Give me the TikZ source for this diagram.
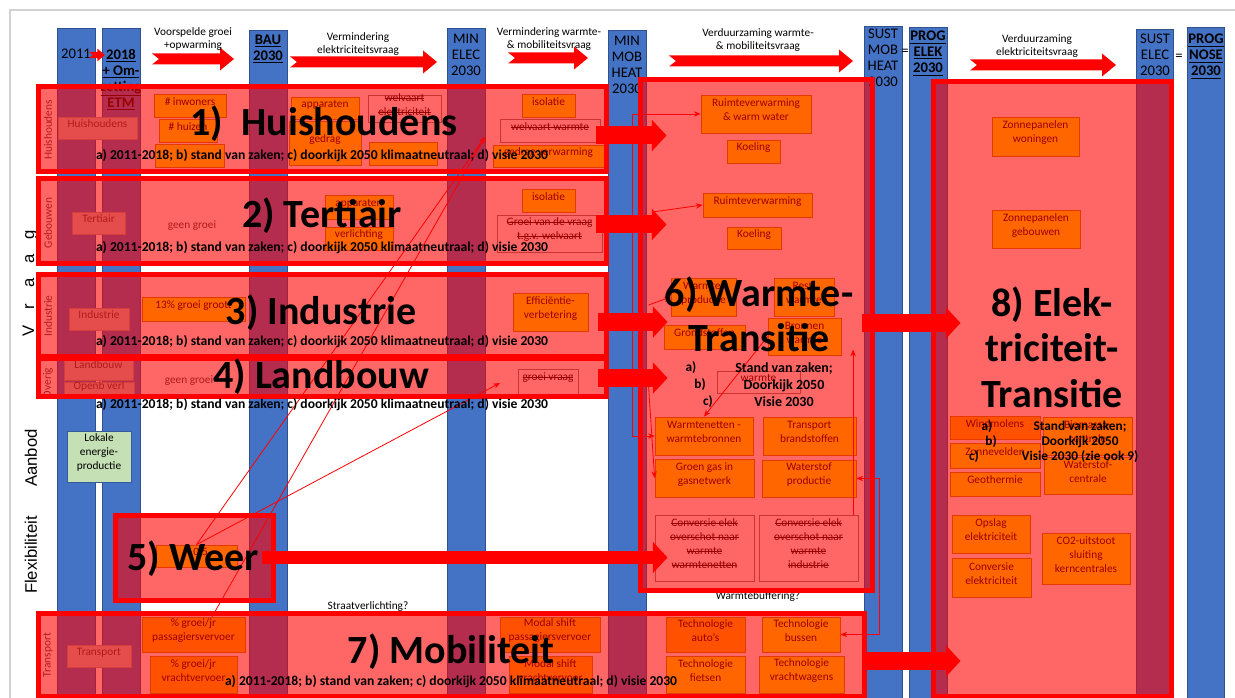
\documentclass[tikz,border=0pt]{standalone}
\usepackage{fontspec}
\setmainfont{Carlito}
\newfontfamily\rowfont{Liberation Sans}
\usetikzlibrary{fit,arrows.meta,positioning}
\definecolor{colblue}{HTML}{4472C4}
\definecolor{coledge}{HTML}{2F528F}
\definecolor{rowedge}{HTML}{2F5597}
\definecolor{boxyellow}{HTML}{FFFF00}
\definecolor{boxgold}{HTML}{FFCC00}
\definecolor{boxedge}{HTML}{BF9000}
\definecolor{labelgray}{HTML}{BFBFBF}
\definecolor{greenfill}{HTML}{C5E0B4}
\tikzstyle{rowcell} = [draw=rowedge, double=white, double distance=1.2pt, line width=0.5pt, fill=white, inner sep=0pt]
\tikzstyle{colbar} = [fill=colblue, draw=coledge, line width=0.6pt, inner sep=0pt]
\tikzstyle{collabel} = [anchor=north, align=center, inner sep=0pt, font=\fontsize{11}{12}\selectfont]
\tikzstyle{boldlabel} = [collabel, font=\fontsize{11}{12}\selectfont\bfseries]
\tikzstyle{obox} = [draw=boxedge, fill=boxyellow, line width=0.6pt, inner sep=0pt, align=center, font=\fontsize{8.5}{10.5}\selectfont]
\tikzstyle{darkbox} = [obox, fill=boxgold]
\tikzstyle{gbox} = [obox, fill=labelgray, draw=gray!80, text=black!75]
\tikzstyle{sbox} = [obox, fill=none, draw=gray]
\tikzstyle{gnbox} = [obox, fill=greenfill, draw=colblue!80!black]
\tikzstyle{redbox} = [draw=red, line width=3.75pt, fill=red, fill opacity=0.6, inner sep=0pt]
\tikzstyle{bigtitle} = [font=\fontsize{30}{34}\selectfont\bfseries, align=center, inner sep=0pt]
\tikzstyle{subline} = [font=\fontsize{10.2}{12}\selectfont\bfseries, inner sep=0pt]
\tikzstyle{abc} = [font=\fontsize{10}{12}\selectfont\bfseries, align=center, inner sep=0pt]
\tikzstyle{hdrtext} = [font=\fontsize{8.5}{10}\selectfont, align=center, inner sep=0pt]
\tikzstyle{rowlabel} = [rotate=90, font=\rowfont\fontsize{12.5}{14}\selectfont, inner sep=0pt]
\tikzstyle{sublabel} = [rotate=90, font=\fontsize{8.5}{10}\selectfont, text=black!75, inner sep=0pt]
\tikzstyle{note} = [font=\fontsize{8.5}{10}\selectfont, inner sep=0pt]
\tikzstyle{thinred} = [draw=red, line width=0.6pt, -{Stealth[length=5pt,width=4pt]}]
\tikzstyle{thinboth} = [draw=red, line width=0.6pt, {Stealth[length=5pt,width=4pt]}-{Stealth[length=5pt,width=4pt]}]
\tikzstyle{bigarrow} = [draw=red, line width=13.5pt, -{Triangle[length=11pt,width=23pt]}]
% block arrow with notched tail: from x, to x, y, scale
\newcommand{\hdrarrow}[4]{%
  \fill[red] (#1,#3-5.5*#4) -- (#2-14*#4,#3-5.5*#4) -- (#2-14*#4,#3-11.5*#4) -- (#2,#3)
    -- (#2-14*#4,#3+11.5*#4) -- (#2-14*#4,#3+5.5*#4) -- (#1,#3+5.5*#4) -- (#1+7*#4,#3) -- cycle;}
% struck-through text
\newcommand{\strikeout}[1]{\setbox0=\hbox{#1}\makebox[0pt][l]{\rule[0.28em]{\wd0}{0.5pt}}\box0}
\newcommand{\visie}{a) 2011-2018; b) stand van zaken; c) doorkijk 2050 klimaatneutraal; d) visie 2030}
\begin{document}
\begin{tikzpicture}[x=0.75pt, y=-0.75pt, >=stealth]
	\useasboundingbox (0,0) rectangle (1235,698);
	\fill[white] (0,0) rectangle (1235,698);
	\draw[black!18, line width=1pt] (10,698) -- (10,10) -- (1235,10);

	% table rows
	\node [rowcell, fit={(20,81) (1250,409)}] (vraag) {};
	\node [rowcell, fit={(40,83) (1250,175)}] (rowhh) {};
	\node [rowcell, fit={(40,177) (1250,269)}] (rowgeb) {};
	\node [rowcell, fit={(40,271) (1250,360)}] (rowind) {};
	\node [rowcell, fit={(40,362) (1250,407)}] (rowov) {};
	\node [rowcell, fit={(20,413) (1250,504)}] (rowaanbod) {};
	\node [rowcell, fit={(20,511) (1250,603)}] (rowflex) {};
	\node [rowcell, fit={(20,611) (1250,712)}] (rowtr) {};
	\node [rowcell, fit={(40,613) (1250,712)}] (rowtrin) {};

	\node [rowlabel] (lvraag) at (30,283) {\makebox[18pt]{V}\makebox[18pt]{r}\makebox[18pt]{a}\makebox[18pt]{a}\makebox[18pt]{g}};
	\node [rowlabel] (laanbod) at (31,458) {Aanbod};
	\node [rowlabel] (lflex) at (31,555) {Flexibiliteit};
	\node [sublabel] (lhh) at (48,130) {Huishoudens};
	\node [sublabel] (lgeb) at (48,223) {Gebouwen};
	\node [sublabel] (lind) at (48,316) {Industrie};
	\node [sublabel] (lov) at (48,383) {Overig};
	\node [sublabel] (ltr) at (48,655) {Transport};

	% scenario columns
	\node [colbar, fit={(57,28) (95,712)}] (c2011) {};
	\node [colbar, fit={(102,28) (140,712)}] (c2018) {};
	\node [colbar, fit={(249,30) (287,712)}] (cbau) {};
	\node [colbar, fit={(447,28) (485,712)}] (cminelec) {};
	\node [colbar, fit={(608,30) (646,712)}] (cminmob) {};
	\node [colbar, fit={(864,26) (902,712)}] (csustmob) {};
	\node [colbar, fit={(909,27) (947,712)}] (cprogelek) {};
	\node [colbar, fit={(1136,29) (1173,712)}] (csustelec) {};
	\node [colbar, fit={(1187,27) (1224,712)}] (cprognose) {};

	\node [collabel] (l2011) at (76,49) {2011};
	\node [boldlabel] (l2018) at (121,49) {\underline{2018}\\\underline{+ Om-}\\\underline{zetting}\\\underline{ETM}};
	\node [boldlabel] (lbau) at (268,35) {\underline{BAU}\\\underline{2030}};
	\node [collabel] (lminelec) at (466,34) {MIN\\ELEC\\2030};
	\node [collabel] (lminmob) at (627,36) {MIN\\MOB\\HEAT\\2030};
	\node [collabel] (lsustmob) at (883,29) {SUST\\MOB\\HEAT\\2030};
	\node [boldlabel] (lprogelek) at (928,31) {\underline{PROG}\\\underline{ELEK}\\\underline{2030}};
	\node [collabel] (lsustelec) at (1155,34) {SUST\\ELEC\\2030};
	\node [boldlabel] (lprognose) at (1206,34) {\underline{PROG}\\\underline{NOSE}\\\underline{2030}};
	\node [note, font=\fontsize{11}{12}\selectfont] (eq1) at (905,52) {=};
	\node [note, font=\fontsize{11}{12}\selectfont] (eq2) at (1179,57) {=};

	% boxes: huishoudens
	\node [gbox, fit={(58,117) (137,139)}] (hhlabel) {Huishoudens};
	\node [obox, fit={(154,94) (226,117)}] (inw) {\# inwoners};
	\node [obox, fit={(159,119) (217,142)}] (huiz) {\# huizen};
	\node [obox, fit={(155,144) (224,167)}] (hhp) {};
	\node [obox, fit={(291,97) (359,119)}] (app1) {apparaten};
	\node [obox, fit={(289,121) (361,165)}] (gedr) {gedrag};
	\node [sbox, fit={(368,95) (441,122)}] (welel) {\strikeout{welvaart}\\\strikeout{elektriciteit}};
	\node [obox, fit={(369,142) (437,165)}] (hhe) {};
	\node [obox, fit={(522,94) (575,117)}] (iso1) {isolatie};
	\node [sbox, fit={(500,119) (600,142)}] (welw) {\strikeout{welvaart warmte}};
	\node [obox, fit={(493,145) (604,167)}] (gedv) {gedrag verwarming};
	% gebouwen
	\node [gbox, fit={(72,212) (125,234)}] (terl) {Tertiair};
	\node [note, text=black!75] (geen1) at (192,226) {geen groei};
	\node [obox, fit={(325,195) (393,219)}] (app2) {apparaten};
	\node [obox, fit={(325,227) (393,250)}] (verl) {verlichting};
	\node [obox, fit={(522,189) (575,212)}] (iso2) {isolatie};
	\node [sbox, fit={(497,215) (602,252)}] (groeiw) {\strikeout{Groei van de vraag}\\\strikeout{t.g.v. welvaart}};
	% industrie
	\node [gbox, fit={(69,308) (129,330)}] (indl) {Industrie};
	\node [obox, fit={(142,297) (245,321)}] (groei13) {13\% groei groott};
	\node [obox, fit={(513,293) (588,331)}] (effv) {Efficiëntie-\\verbetering};
	% overig
	\node [gbox, fit={(64,358) (133,380)}] (lbl) {Landbouw};
	\node [gbox, fit={(64,382) (134,398)}] (ovl) {Openb verl};
	\node [note, text=black!75] (geen2) at (189,381) {geen groei};
	\node [sbox, fit={(518,369) (578,394)}] (grv) {\strikeout{groei vraag}};
	% aanbod, weer
	\node [gnbox, fit={(67,431) (131,482)}] (lok) {Lokale\\energie-\\productie};
	\node [obox, fit={(156,545) (237,567)}] (weerb) {+ 0,5};
	% warmte-transitie
	\node [obox, fit={(701,95) (811,133)}] (rvww) {Ruimteverwarming\\\& warm water};
	\node [obox, fit={(727,140) (780,163)}] (koel1) {Koeling};
	\node [obox, fit={(703,193) (812,217)}] (rv) {Ruimteverwarming};
	\node [obox, fit={(727,227) (781,249)}] (koel2) {Koeling};
	\node [obox, fit={(671,278) (736,316)}] (wprod) {Warmte-\\productie};
	\node [obox, fit={(774,278) (834,316)}] (rest) {Rest-\\warmte};
	\node [obox, fit={(664,325) (745,349)}] (grond) {Grondstoffen};
	\node [obox, fit={(768,318) (841,355)}] (bron) {Bronnen\\warmte};
	\node [sbox, fit={(717,371) (800,393)}] (wov) {warmte};
	\node [obox, fit={(655,417) (753,455)}] (wnet) {Warmtenetten -\\warmtebronnen};
	\node [obox, fit={(763,417) (856,455)}] (tbr) {Transport\\brandstoffen};
	\node [obox, fit={(655,459) (754,497)}] (ggas) {Groen gas in\\gasnetwerk};
	\node [obox, fit={(762,460) (856,497)}] (wsp) {Waterstof\\productie};
	\node [sbox, fit={(655,515) (754,581)}] (conv1) {\strikeout{Conversie elek}\\\strikeout{overschot naar}\\\strikeout{warmte}\\\strikeout{warmtenetten}};
	\node [sbox, fit={(759,515) (858,581)}] (conv2) {\strikeout{Conversie elek}\\\strikeout{overschot naar}\\\strikeout{warmte}\\\strikeout{industrie}};
	\node [note] (wbuf) at (758,597) {Warmtebuffering?};
	\node [note] (straat) at (368,607) {Straatverlichting?};
	% elektriciteit-transitie
	\node [obox, fit={(992,117) (1079,156)}] (zpw) {Zonnepanelen\\woningen};
	\node [obox, fit={(992,210) (1080,248)}] (zpg) {Zonnepanelen\\gebouwen};
	\node [darkbox, fit={(950,416) (1040,439)}] (wind) {Windmolens};
	\node [obox, fit={(1043,417) (1132,455)}] (bio) {Biomassa-\\centrale};
	\node [obox, fit={(950,443) (1040,468)}] (zv) {Zonnevelden};
	\node [obox, fit={(1044,457) (1132,494)}] (wsc) {Waterstof-\\centrale};
	\node [obox, fit={(950,472) (1040,496)}] (geo) {Geothermie};
	\node [obox, fit={(952,515) (1030,553)}] (opsl) {Opslag\\elektriciteit};
	\node [obox, fit={(952,558) (1031,597)}] (convel) {Conversie\\elektriciteit};
	\node [obox, fit={(1042,533) (1130,584)}] (co2) {CO2-uitstoot\\sluiting\\kerncentrales};
	% transport
	\node [gbox, fit={(67,645) (131,667)}] (trl) {Transport};
	\node [darkbox, fit={(142,617) (245,652)}] (pasv) {\% groei/jr\\passagiersvervoer};
	\node [darkbox, fit={(150,656) (237,693)}] (vrav) {\% groei/jr\\vrachtvervoer};
	\node [darkbox, fit={(500,617) (600,652)}] (msp) {Modal shift\\passagiersvervoer};
	\node [darkbox, fit={(509,656) (592,693)}] (msv) {Modal shift\\vrachtvervoer};
	\node [darkbox, fit={(666,617) (745,652)}] (tauto) {Technologie\\auto's};
	\node [obox, fit={(762,617) (840,652)}] (tbus) {Technologie\\bussen};
	\node [obox, fit={(666,656) (745,693)}] (tfiets) {Technologie\\fietsen};
	\node [obox, fit={(759,656) (844,693)}] (tvracht) {Technologie\\vrachtwagens};

	% thin links
	\coordinate (hhtip) at (485,137);
	\coordinate (lbtip) at (500,383);
	\draw [thinred] (weerb.north) -- (hhtip);
	\draw [thinred] (weerb.north) -- (lbtip);
	\draw [thinred] ([xshift=14pt]pasv.north) -- (hhtip);
	\draw [thinboth] (rvww.west) -| ([xshift=-17pt]wnet.west) -- (wnet.west);
	\draw [thinred] ([shift={(-50,7)}]rv.west) -- (rv.west);
	\draw [thinred] ([shift={(-22,8)}]wprod.west) -- (wprod.west);
	\draw [thinred] (bron.west) -- (wnet.north);
	\draw [thinred] ([shift={(-6,-91)}]ggas.west) -- (ggas.west);
	\draw [thinred] ([xshift=-4pt]conv2.north east) -- ++(0,-165);
	\draw [thinboth] (tbus.east) -| ([xshift=17pt]wsp.east) -- (wsp.east);

	% highlighted themes
	\node [redbox, fit={(38,87) (606,172)}] (rhuis) {};
	\node [redbox, fit={(38,179) (606,264)}] (rter) {};
	\node [redbox, fit={(38,275) (606,357)}] (rind) {};
	\node [redbox, fit={(38,359) (606,397)}] (rland) {};
	\node [redbox, fit={(115,515) (273,600)}] (rweer) {};
	\node [redbox, fit={(640,80) (872,590)}] (rwarm) {};
	\node [redbox, fit={(38,613) (864,696)}] (rmob) {};
	\node [redbox, fit={(933,82) (1171,696)}] (relek) {};

	\draw [bigarrow] ([shift={(-13,6)}]rhuis.east) -- ++(71,0);
	\draw [bigarrow] ([shift={(-13,3)}]rter.east) -- ++(71,0);
	\draw [bigarrow] ([shift={(-11,6)}]rind.east) -- ++(70,0);
	\draw [bigarrow] ([shift={(-11,0)}]rland.east) -- ++(70,0);
	\draw [bigarrow, line width=10pt] ([shift={(-14,0)}]rweer.east) -- ++(406,0);
	\draw [bigarrow] ([shift={(-13,-12)}]rwarm.east) -- ++(99,0);
	\draw [bigarrow] ([shift={(-5,6.5)}]rmob.east) -- ++(99,0);

	\node [bigtitle] (thh) at (324,124) {1)\ \ Huishoudens};
	\node [bigtitle] (tter) at (322,216) {2) Tertiair};
	\node [bigtitle] (tind) at (321,313) {3) Industrie};
	\node [bigtitle] (tland) at (321,377) {4) Landbouw};
	\node [bigtitle] (tweer) at (193,559) {5) Weer};
	\node [bigtitle] (twarm) at (759,314) {6) Warmte-\\Transitie};
	\node [bigtitle] (tmob) at (451,652) {7) Mobiliteit};
	\node [bigtitle] (telek) at (1052,347) {8) Elek-\\triciteit-\\Transitie};

	\node [subline] (shh) at (322,156) {\visie};
	\node [subline] (ster) at (322,248) {\visie};
	\node [subline] (sind) at (322,342) {\visie};
	\node [subline] (sland) at (322,405) {\visie};
	\node [subline] (smob) at (451,682) {\visie};

	\node [abc] (wa) at (691,368) {a)};
	\node [abc] (wb) at (700,385) {b)};
	\node [abc] (wc) at (708,402) {c)};
	\node [abc, font=\fontsize{10.5}{12.75}\selectfont\bfseries] (wtxt) at (784,385) {Stand van zaken;\\Doorkijk 2050\\Visie 2030};
	\node [abc, font=\fontsize{10}{11.25}\selectfont\bfseries] (ea) at (987,427) {a)};
	\node [abc, font=\fontsize{10}{11.25}\selectfont\bfseries] (eb) at (991,442) {b)};
	\node [abc, font=\fontsize{10}{11.25}\selectfont\bfseries] (ec) at (974,457) {c)};
	\node [abc, font=\fontsize{10}{11.25}\selectfont\bfseries] (etxt) at (1080,442) {Stand van zaken;\\Doorkijk 2050\\Visie 2030 (zie ook 9)};

	% header: steps between scenarios
	\hdrarrow{89}{105}{55}{0.55}
	\hdrarrow{152}{234}{59}{1}
	\hdrarrow{290}{437}{62}{1}
	\hdrarrow{508}{588}{58}{1}
	\hdrarrow{669}{853}{61}{1}
	\hdrarrow{970}{1116}{65}{1}
	\node [hdrtext] (h1) at (193,39) {Voorspelde groei\\+opwarming};
	\node [hdrtext] (h2) at (358,44) {Vermindering\\elektriciteitsvraag};
	\node [hdrtext] (h3) at (549,39) {Vermindering warmte-\\\& mobiliteitsvraag};
	\node [hdrtext] (h4) at (758,40) {Verduurzaming warmte-\\\& mobiliteitsvraag};
	\node [hdrtext] (h5) at (1037,46) {Verduurzaming\\elektriciteitsvraag};
\end{tikzpicture}
\end{document}
